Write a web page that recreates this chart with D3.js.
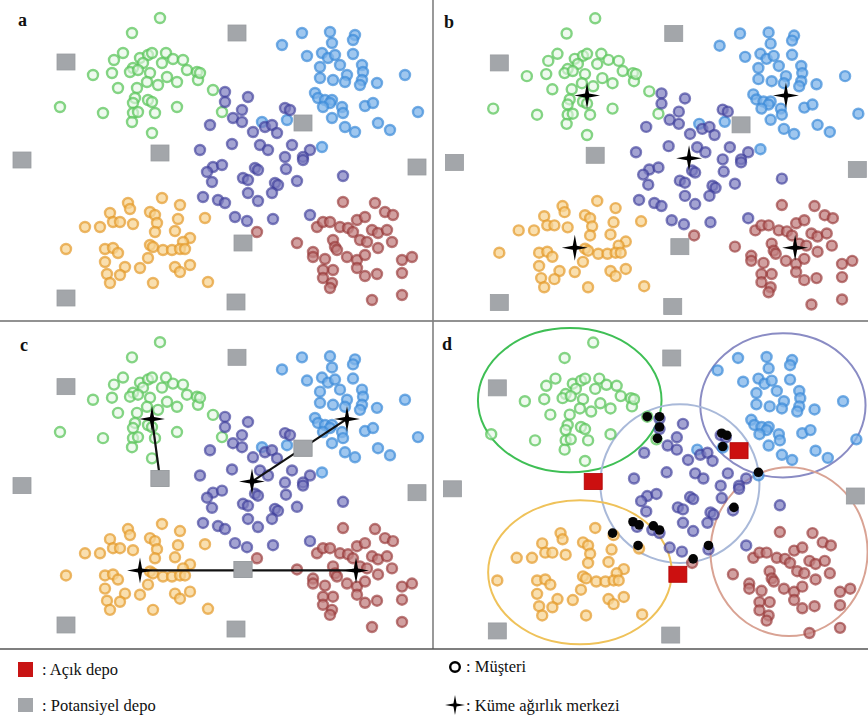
<!DOCTYPE html>
<html><head><meta charset="utf-8">
<script src="https://cdn.jsdelivr.net/npm/d3@7"></script>
<style>body{margin:0;background:#fff}svg{display:block}</style>
</head><body>
<svg id="chart" width="868" height="720"></svg>
<script>
// ---- DATA (abstract panel units, 0..430 x 0..320) ----
const green = [[160,18],[132,33],[123,53],[114,60],[140,58],[148,55],[152,53],[166,53],[173,59],[183,60],[162,63],[143,63],[133,68],[130,72],[138,70],[93,75],[112,73],[150,73],[167,77],[177,82],[187,70],[197,72],[198,80],[213,90],[147,82],[158,85],[118,88],[137,88],[135,98],[148,100],[152,102],[133,103],[60,107],[103,113],[133,113],[138,112],[155,113],[177,107],[132,122],[152,133],[222,112],[200,73]];
const blue = [[302,33],[330,32],[355,35],[353,40],[282,45],[332,43],[307,56],[322,53],[328,58],[335,55],[353,54],[340,65],[320,67],[362,65],[363,72],[347,75],[320,78],[333,80],[345,82],[362,80],[360,85],[377,83],[405,75],[315,93],[318,98],[325,100],[332,100],[330,103],[323,107],[342,107],[343,113],[365,106],[373,103],[332,118],[345,127],[355,132],[378,123],[390,130],[418,112],[322,147],[287,120],[262,122]];
const purple = [[225,92],[225,102],[248,97],[242,110],[233,118],[242,122],[210,125],[253,132],[265,127],[272,125],[277,133],[285,108],[290,110],[232,144],[260,145],[268,150],[292,145],[310,150],[285,157],[303,157],[200,150],[213,167],[222,165],[207,172],[212,182],[255,168],[258,170],[286,169],[303,160],[243,178],[248,180],[275,183],[278,185],[297,181],[248,193],[272,193],[203,197],[218,200],[225,203],[258,201],[235,217],[247,221],[273,219],[343,176],[310,215]];
const orange = [[162,198],[128,203],[130,209],[180,205],[110,213],[150,212],[155,215],[178,219],[205,218],[113,222],[120,222],[133,224],[157,223],[85,227],[100,227],[155,232],[175,231],[190,238],[183,242],[66,249],[105,249],[113,248],[118,253],[150,245],[153,247],[163,250],[172,250],[180,249],[185,249],[148,258],[105,262],[125,267],[140,268],[175,267],[180,272],[190,265],[107,274],[120,275],[110,283],[153,283],[208,282]];
const red = [[257,232],[297,243],[343,202],[375,203],[385,212],[393,215],[317,227],[323,222],[330,222],[340,227],[348,228],[357,220],[365,217],[353,232],[372,230],[378,233],[387,230],[333,240],[335,247],[337,250],[360,240],[367,242],[392,242],[378,248],[313,252],[313,257],[325,259],[347,257],[357,260],[365,255],[357,268],[333,270],[323,270],[323,278],[365,276],[377,274],[402,273],[402,260],[412,257],[332,283],[330,288],[372,300],[402,295]];
// candidate depots; open ones (panel d) by index
const depots = [[66,62],[237,33],[303,123],[160,153],[22,160],[417,167],[243,243],[66,298],[236,302]];
const openDepots = [2,3,6];
// cluster centroids (panels b, c)
const centroids = {green:[152,94], blue:[347,94], purple:[252,156], orange:[140,244], red:[356,244]};
// panel c links
const links = [["green","depot3"],["blue","purple"],["orange","red"]];
// panel d cluster ellipses: [cx, cy, rx, ry]
const ellipses = {green:[137,74,90,70], blue:[346,79,81,70], purple:[245,155,78,77], orange:[147,241,90,70], red:[352,221,77,82]};
// panel d boundary customers
const boundary = [[213,90],[225,90],[225,100],[223,111],[286,106],[291,108],[287,119],[322,144],[298,178],[199,192],[205,195],[219,196],[225,200],[179,203],[204,215],[273,215],[258,228]];
const panelLabels = ["a","b","c","d"];
const legendItems = [": Açık depo", ": Potansiyel depo", ": Müşteri", ": Küme ağırlık merkezi"];

// ---- STYLE ----
const styles = {
  green:{stroke:"#5cc65c", fill:"#e4f6e4", so:0.75, fo:0.6, ell:"#3fbf55"},
  blue:{stroke:"#3a8ad8", fill:"#7fb4ea", so:0.7, fo:0.75, ell:"#8a8cc4"},
  purple:{stroke:"#3c3c9a", fill:"#7c7cbf", so:0.65, fo:0.7, ell:"#a9b9d9"},
  orange:{stroke:"#e49a2a", fill:"#f7d494", so:0.7, fo:0.75, ell:"#efc25a"},
  red:{stroke:"#973535", fill:"#c28080", so:0.65, fo:0.75, ell:"#d9a394"}
};
const clusters = {green, blue, purple, orange, red};
const order = ["green","blue","purple","orange","red"];

const svg = d3.select("#chart");
const W = 868, H = 720;

const panels = [
  {x0:0,   y0:0,   sx:1.0,  sy:1.0,   cx:[0,432],   cy:[0,321],   label:[18,26]},
  {x0:432, y0:0,   sx:1.02, sy:1.015, cx:[433,868], cy:[0,321],   label:[444,28]},
  {x0:0,   y0:324, sx:1.0,  sy:1.01,  cx:[0,432],   cy:[322,648], label:[20,351]},
  {x0:430, y0:324, sx:1.02, sy:1.03,  cx:[433,868], cy:[322,648], label:[442,350]}
];

// 4-point star symbol
const star4 = {
  draw(ctx, size){
    const R = Math.sqrt(size), r = R*0.22;
    for (let i=0;i<8;i++){
      const a = -Math.PI/2 + i*Math.PI/4;
      const rr = i%2===0 ? R : r;
      const x = rr*Math.cos(a), y = rr*Math.sin(a);
      if(i===0) ctx.moveTo(x,y); else ctx.lineTo(x,y);
    }
    ctx.closePath();
  }
};

const defs = svg.append("defs");
panels.forEach((p,i)=>{
  defs.append("clipPath").attr("id","clip"+i).append("rect")
    .attr("x",p.cx[0]).attr("y",p.cy[0]).attr("width",p.cx[1]-p.cx[0]).attr("height",p.cy[1]-p.cy[0]);
});

panels.forEach((p,pi)=>{
  const x = d3.scaleLinear().domain([0,430]).range([p.x0, p.x0+430*p.sx]);
  const y = d3.scaleLinear().domain([0,320]).range([p.y0, p.y0+320*p.sy]);
  const g = svg.append("g").attr("clip-path",`url(#clip${pi})`);

  if(pi===3){
    order.forEach(k=>{
      const e = ellipses[k];
      g.append("ellipse").attr("cx",x(e[0])).attr("cy",y(e[1]))
        .attr("rx",x(e[2])-x(0)).attr("ry",y(e[3])-y(0))
        .attr("fill","none").attr("stroke",styles[k].ell).attr("stroke-width",2);
    });
  }

  order.forEach(k=>{
    const s = styles[k];
    g.append("g").selectAll("circle").data(clusters[k]).join("circle")
      .attr("cx",d=>x(d[0])).attr("cy",d=>y(d[1])).attr("r",5)
      .attr("fill",s.fill).attr("fill-opacity",s.fo)
      .attr("stroke",s.stroke).attr("stroke-opacity",s.so).attr("stroke-width",2.4);
  });

  if(pi===3){
    g.append("g").selectAll("circle").data(boundary).join("circle")
      .attr("cx",d=>x(d[0])).attr("cy",d=>y(d[1])).attr("r",4.8).attr("fill","#050505");
  }

  // depots
  g.append("g").selectAll("rect").data(depots.map((d,i)=>({d,i}))).join("rect")
    .attr("x",o=>x(o.d[0])-9).attr("y",o=>y(o.d[1])-8).attr("width",18).attr("height",16)
    .attr("fill",o=> (pi===3 && openDepots.includes(o.i)) ? "#cc1010" : "#a3a6aa")
    .attr("stroke",o=> (pi===3 && openDepots.includes(o.i)) ? "#b00000" : "#9a9da1").attr("stroke-width",0.8);

  if(pi===2){
    const pt = name => name.startsWith("depot") ? depots[+name.slice(5)] : centroids[name];
    g.append("g").selectAll("line").data(links).join("line")
      .attr("x1",d=>x(pt(d[0])[0])).attr("y1",d=>y(pt(d[0])[1]))
      .attr("x2",d=>x(pt(d[1])[0])).attr("y2",d=>y(pt(d[1])[1]))
      .attr("stroke","#111").attr("stroke-width",2.2);
    // redraw depot squares over lines
    [3,2,6].forEach(i=>{
      g.append("rect").attr("x",x(depots[i][0])-9).attr("y",y(depots[i][1])-8).attr("width",18).attr("height",16)
        .attr("fill","#a3a6aa").attr("stroke","#9a9da1").attr("stroke-width",0.8);
    });
  }
  if(pi===1 || pi===2){
    g.append("g").selectAll("path").data(order).join("path")
      .attr("transform",k=>`translate(${x(centroids[k][0])},${y(centroids[k][1])})`)
      .attr("d",d3.symbol().type(star4).size(169)).attr("fill","#000");
  }
  svg.append("text").attr("x",p.label[0]).attr("y",p.label[1]).text(panelLabels[pi])
    .attr("font-family","Liberation Serif, serif").attr("font-weight","bold").attr("font-size",18).attr("fill","#111");
});

// dividers
svg.append("line").attr("x1",0).attr("x2",W).attr("y1",321).attr("y2",321).attr("stroke","#6e6e6e").attr("stroke-width",1.6);
svg.append("line").attr("x1",433).attr("x2",433).attr("y1",0).attr("y2",649).attr("stroke","#808080").attr("stroke-width",1.6);
svg.append("line").attr("x1",0).attr("x2",W).attr("y1",649).attr("y2",649).attr("stroke","#555").attr("stroke-width",1.6);

// legend
const lg = svg.append("g").attr("font-family","Liberation Serif, serif").attr("font-size",16.5).attr("fill","#111");
lg.append("rect").attr("x",18).attr("y",662).attr("width",15).attr("height",15).attr("fill","#c81414");
lg.append("rect").attr("x",18).attr("y",698).attr("width",15).attr("height",14).attr("fill","#a3a6aa");
lg.append("text").attr("x",42).attr("y",675).text(legendItems[0]);
lg.append("text").attr("x",42).attr("y",711).text(legendItems[1]);
lg.append("circle").attr("cx",455).attr("cy",667).attr("r",4.8).attr("fill","none").attr("stroke","#000").attr("stroke-width",2.4);
lg.append("path").attr("transform","translate(455,705)").attr("d",d3.symbol().type(star4).size(100)).attr("fill","#000");
lg.append("text").attr("x",466).attr("y",672).text(legendItems[2]);
lg.append("text").attr("x",466).attr("y",711).text(legendItems[3]);
</script>
</body></html>
